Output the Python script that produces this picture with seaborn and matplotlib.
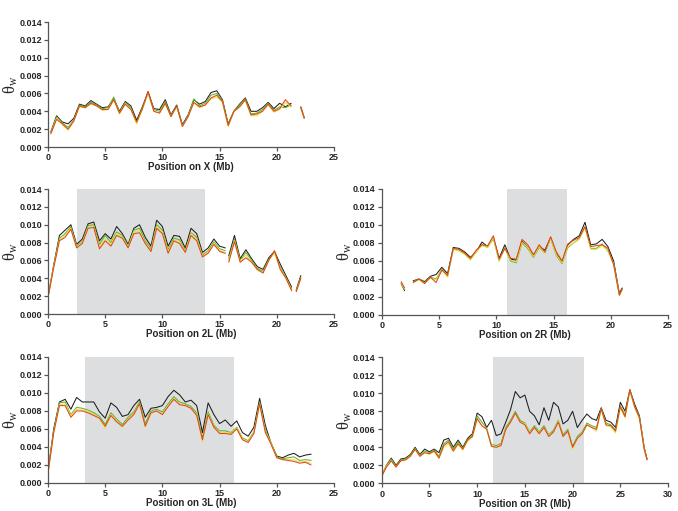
import matplotlib
matplotlib.use("Agg")
import matplotlib.pyplot as plt
import numpy as np
import pandas as pd
import seaborn as sns

# theta_w values are in units of 0.001; np.nan breaks a line
series_names = ["black", "green", "yellow", "red"]
series_colors = ["#1e1e1e", "#63b22f", "#e6e23a", "#e5441d"]

pos_X = np.r_[np.arange(0.25, 21.3, 0.5), np.nan, 22.1, 22.4]
X_black = [1.7,3.5,2.8,2.6,3.2,4.8,4.6,5.2,4.8,4.4, 4.5,5.4,4.0,5.1,4.6,3.0,4.5,6.2,4.3,4.2,
           5.3,3.6,4.7,2.5,3.6,5.3,4.8,5.1,6.1,6.3, 5.3,2.6,4.0,4.8,5.5,4.0,4.0,4.4,5.0,4.3,
           4.9,4.5,4.9, np.nan, 4.5,3.3]
X_green = [1.6,3.4,2.7,2.2,3.0,4.7,4.5,5.0,4.7,4.3, 4.4,5.6,3.9,5.0,4.4,2.7,4.4,6.0,4.2,4.0,
           5.1,3.5,4.6,2.4,3.5,5.4,4.6,4.9,5.8,6.0, 5.2,2.5,4.0,4.7,5.4,3.7,3.8,4.2,4.9,4.1,
           4.5,4.4,4.7, np.nan, 4.4,3.3]
X_yellow = [1.5,3.2,2.5,1.9,2.9,4.5,4.4,4.8,4.6,4.1, 4.2,5.3,3.7,4.8,4.2,2.6,4.2,6.0,4.0,3.8,
            4.8,3.4,4.5,2.3,3.4,5.0,4.4,4.7,5.4,5.6, 5.0,2.3,3.9,4.5,5.2,3.5,3.5,4.0,4.7,3.9,
            4.2,5.0,4.5, np.nan, 4.3,3.2]
X_red = [1.5,3.1,2.6,2.0,2.9,4.6,4.4,4.9,4.6,4.2, 4.2,5.3,3.8,4.8,4.2,2.8,4.3,6.2,4.0,3.8,
         4.9,3.4,4.6,2.3,3.4,5.0,4.5,4.7,5.5,5.8, 5.1,2.4,4.0,4.5,5.3,3.6,3.7,4.0,4.8,4.0,
         4.3,5.3,4.6, np.nan, 4.4,3.2]

pos_2L = np.r_[np.arange(0, 15.6, 0.5), np.nan, np.arange(15.8, 21.4, 0.5), np.nan, 21.7, 22.1]
L2_black = [1.9,5.5,8.8,9.4,10.0,7.8,8.4,10.1,10.3,8.2, 9.0,8.4,9.8,9.0,7.8,9.6,10.0,8.6,7.6,10.5,
            9.8,7.6,8.8,8.7,7.4,9.6,9.0,6.9,7.4,8.4, 7.6,7.4, np.nan,
            6.5,8.8,6.2,7.2,6.2,5.3,5.0,6.3,7.0,5.6,4.3,3.0, np.nan, 2.7,4.3]
L2_green = [1.9,5.4,8.5,9.0,9.8,7.6,8.1,9.9,10.0,7.8, 8.8,8.0,9.2,8.8,7.6,9.4,9.6,8.2,7.3,10.0,
            9.4,7.2,8.5,8.3,7.1,9.1,8.6,6.6,7.1,8.1, 7.3,7.1, np.nan,
            6.2,8.4,6.0,6.9,6.0,5.1,4.8,6.1,6.9,5.3,4.1,2.8, np.nan, 2.6,4.1]
L2_yellow = [1.9,5.3,8.3,8.8,9.6,7.5,8.0,9.7,9.8,7.5, 8.4,7.8,9.0,8.6,7.5,9.2,9.3,8.0,7.1,9.8,
             9.2,7.0,8.3,8.1,7.0,9.0,8.4,6.5,6.9,7.9, 7.1,6.9, np.nan,
             6.0,8.2,5.9,6.6,5.8,4.9,4.6,6.0,6.8,5.1,4.0,2.7, np.nan, 2.5,4.0]
L2_red = [1.9,5.2,8.2,8.6,9.5,7.4,7.9,9.6,9.7,7.3, 8.2,7.6,8.8,8.5,7.4,9.0,9.1,7.9,7.0,9.6,
          9.0,6.8,8.2,7.9,6.9,8.8,8.2,6.4,6.8,7.8, 7.0,6.8, np.nan,
          5.8,8.1,5.8,6.3,5.8,5.0,4.6,6.0,7.1,5.0,4.0,2.6, np.nan, 2.5,4.0]

pos_2R = np.r_[1.7, 2.0, np.nan, np.arange(2.75, 20.8, 0.5), 21.0]
R2_black = [3.5,2.7, np.nan, 3.8,4.0,3.7,4.3,4.5,5.3,4.6,7.5,7.4,7.0, 6.4,7.0,8.1,7.6,8.6,6.3,7.8,6.2,6.1,8.2,
            7.5,6.6,7.6,7.2,8.6,6.8,5.9,7.8,8.4,8.8, 10.3,7.8,7.9,8.4,7.6,6.0,2.4, 3.0]
R2_green = [3.5,2.8, np.nan, 3.7,4.0,3.6,4.2,4.0,5.1,4.3,7.3,7.2,6.8, 6.2,7.0,7.8,7.5,8.5,6.0,7.5,6.0,5.8,8.0,
            7.4,6.4,7.5,6.9,8.5,6.6,5.7,7.5,8.0,8.5, 9.8,7.4,7.4,7.9,7.1,5.7,2.2, 2.8]
R2_yellow = [3.6,2.9, np.nan, 3.6,3.9,3.5,4.1,3.9,5.0,4.2,7.3,7.1,6.7, 6.1,7.0,7.7,7.5,8.6,6.0,7.4,6.1,5.9,8.1,
             7.5,6.5,7.6,6.9,8.5,6.7,5.8,7.6,8.0,8.4, 9.7,7.3,7.3,7.7,7.1,5.6,2.2, 2.8]
R2_red = [3.7,3.0, np.nan, 3.6,4.0,3.5,4.2,3.6,5.0,4.4,7.4,7.3,6.9, 6.3,7.2,7.8,7.7,8.8,6.2,7.4,6.3,6.2,8.4,
          7.8,6.7,7.8,7.0,8.7,7.0,6.0,7.9,8.3,8.6, 9.8,7.6,7.7,7.8,7.4,5.6,2.2, 2.9]

pos_3L = np.arange(0, 23.1, 0.5)
L3_black = [1.3,6.0,9.0,9.3,8.2,9.5,9.0,9.0,9.0,7.9, 7.2,8.9,8.4,7.4,7.6,8.6,9.3,7.3,8.3,8.4,
            8.6,9.6,10.3,9.8,9.0,9.2,8.6,5.6,8.9,7.6, 6.6,7.0,6.3,6.9,5.6,5.2,6.2,9.4,6.4,4.4,
            3.0,2.8,3.1,3.3,2.9,3.1,3.2]
L3_green = [1.2,5.8,8.9,9.0,7.6,8.4,8.3,8.1,7.8,7.4, 6.5,7.8,7.1,6.5,7.3,7.9,9.0,6.6,8.0,8.2,
            7.9,8.8,9.6,9.0,8.8,8.5,7.8,5.0,7.9,6.4, 5.8,5.8,5.6,6.2,5.0,4.7,5.7,9.0,5.9,4.5,
            2.9,2.7,2.8,2.9,2.5,2.6,2.5]
L3_yellow = [1.1,5.6,8.7,8.8,7.5,8.2,8.1,8.0,7.6,7.2, 6.1,7.6,6.9,6.2,7.1,7.7,8.8,6.3,7.8,8.0,
             7.7,8.6,9.4,8.8,8.6,8.3,7.6,4.6,7.7,6.2, 5.6,5.6,5.5,6.1,4.9,4.6,5.6,8.8,5.7,4.4,
             2.8,2.6,2.6,2.6,2.3,2.4,2.2]
L3_red = [1.1,5.6,8.6,8.6,7.3,8.0,8.0,7.8,7.5,7.2, 6.3,7.5,6.8,6.3,7.0,7.6,8.8,6.3,7.8,8.0,
          7.6,8.5,9.3,8.7,8.6,8.3,7.5,4.8,7.6,6.2, 5.5,5.5,5.4,6.0,4.8,4.5,5.5,8.8,5.6,4.3,
          2.8,2.6,2.5,2.4,2.2,2.3,2.0]

pos_3R = np.r_[np.arange(0, 27.6, 0.5), 27.8]
R3_black = [0.8,2.0,2.8,2.0,2.7,2.8,3.2,4.0,3.2,3.8, 3.5,3.8,3.4,4.8,5.0,4.0,4.8,4.0,5.0,5.5,
            7.8,7.4,6.2,7.0,5.3,5.5,6.8,8.2,10.2,9.5, 9.8,8.0,7.5,6.5,8.4,7.0,9.0,8.5,6.6,7.0,
            8.0,6.2,7.0,7.7,7.2,7.0,8.4,7.0,6.8,6.2, 9.0,8.0,10.4,8.8,7.5,4.0, 2.7]
R3_green = [0.8,2.0,2.7,1.9,2.6,2.7,3.1,3.9,3.1,3.6, 3.4,3.7,3.0,4.4,4.8,3.8,4.6,3.9,4.9,5.3,
            7.5,6.8,6.1,4.3,4.2,4.4,6.2,7.0,8.0,7.0, 6.7,5.7,6.4,5.7,6.4,5.4,5.9,7.0,5.4,6.0,
            4.1,5.2,5.7,6.7,6.4,6.2,8.3,6.7,6.5,5.9, 8.6,7.6,10.3,8.6,7.4,3.9, 2.7]
R3_yellow = [0.8,1.9,2.5,1.8,2.5,2.6,3.0,3.7,3.0,3.4, 3.2,3.5,2.8,4.0,4.4,3.5,4.3,3.7,4.7,5.1,
             7.1,6.4,6.0,4.1,4.0,4.2,6.0,6.8,7.8,6.8, 6.6,5.6,6.2,5.6,6.2,5.3,5.7,6.9,5.2,5.8,
             3.8,5.0,5.5,6.5,6.2,5.8,8.2,6.4,6.3,5.6, 8.4,7.3,10.3,8.4,7.2,3.8, 2.6]
R3_red = [0.8,1.8,2.5,1.8,2.5,2.6,3.0,3.8,3.0,3.4, 3.3,3.6,2.8,4.2,4.6,3.6,4.4,3.8,4.8,5.2,
          7.2,6.4,6.0,4.1,4.0,4.2,6.0,6.8,7.8,6.8, 6.5,5.5,6.2,5.5,6.2,5.2,5.7,6.8,5.2,5.8,
          4.0,5.0,5.5,6.5,6.2,6.0,8.3,6.5,6.4,5.8, 8.5,7.4,10.4,8.5,7.3,3.8, 2.6]

# shaded regions (Mb), None = no shading
shade_2L = (2.5, 13.7)
shade_2R = (10.9, 16.15)
shade_3L = (3.2, 16.3)
shade_3R = (11.65, 21.2)

panels = [
    ("X", pos_X, [X_black, X_green, X_yellow, X_red], None, 25, [0.0708, 0.7123, 0.4218, 0.2446]),
    ("2L", pos_2L, [L2_black, L2_green, L2_yellow, L2_red], shade_2L, 25, [0.0708, 0.3855, 0.4218, 0.2446]),
    ("2R", pos_2R, [R2_black, R2_green, R2_yellow, R2_red], shade_2R, 25, [0.5630, 0.3836, 0.4223, 0.2466]),
    ("3L", pos_3L, [L3_black, L3_green, L3_yellow, L3_red], shade_3L, 25, [0.0708, 0.0548, 0.4218, 0.2466]),
    ("3R", pos_3R, [R3_black, R3_green, R3_yellow, R3_red], shade_3R, 30, [0.5630, 0.0542, 0.4223, 0.2466]),
]

sns.set_style("ticks")
plt.rcParams["font.family"] = ["Liberation Sans", "DejaVu Sans"]
plt.rcParams["mathtext.fontset"] = "custom"
plt.rcParams["mathtext.rm"] = "Liberation Serif"
plt.rcParams["mathtext.it"] = "Liberation Serif"

fig = plt.figure(figsize=(6.78, 5.11), dpi=100)

for arm, pos, vals, shade, xmax, rect in panels:
    ax = fig.add_axes(rect)
    frames = []
    for name, v in zip(series_names, vals):
        d = pd.DataFrame({"pos": pos, "theta": np.array(v) * 1e-3})
        d["seg"] = np.isnan(d["theta"]).cumsum()
        d["series"] = name
        frames.append(d.dropna())
    df = pd.concat(frames, ignore_index=True)
    if shade is not None:
        ax.axvspan(shade[0], shade[1], color="#dcdedf", lw=0, zorder=0)
    sns.lineplot(data=df, x="pos", y="theta", hue="series", units="seg",
                 estimator=None, sort=False, hue_order=series_names,
                 palette=series_colors, legend=False, lw=0.75, ax=ax)
    ax.set_xlim(0, xmax)
    ax.set_ylim(0, 0.014)
    ax.set_xticks(np.arange(0, xmax + 1, 5))
    ax.set_yticks(np.arange(0, 0.0141, 0.002))
    ax.set_yticklabels([f"{t:.3f}" for t in np.arange(0, 0.0141, 0.002)])
    ax.tick_params(labelsize=6.5, length=3, width=0.9, color="#555555", pad=1.5)
    for lab in ax.get_xticklabels() + ax.get_yticklabels():
        lab.set_fontweight("bold")
    for sp in ["left", "bottom"]:
        ax.spines[sp].set_color("#555555")
        ax.spines[sp].set_linewidth(0.9)
    sns.despine(ax=ax)
    ax.set_xlabel(f"Position on {arm} (Mb)", fontsize=7, fontweight="bold", labelpad=0)
    ax.set_ylabel("θ$_{\\mathrm{w}}$", fontsize=12, family="Liberation Serif")
    ax.yaxis.set_label_coords(-0.098, 0.5)

fig.savefig("out.png", dpi=100)
